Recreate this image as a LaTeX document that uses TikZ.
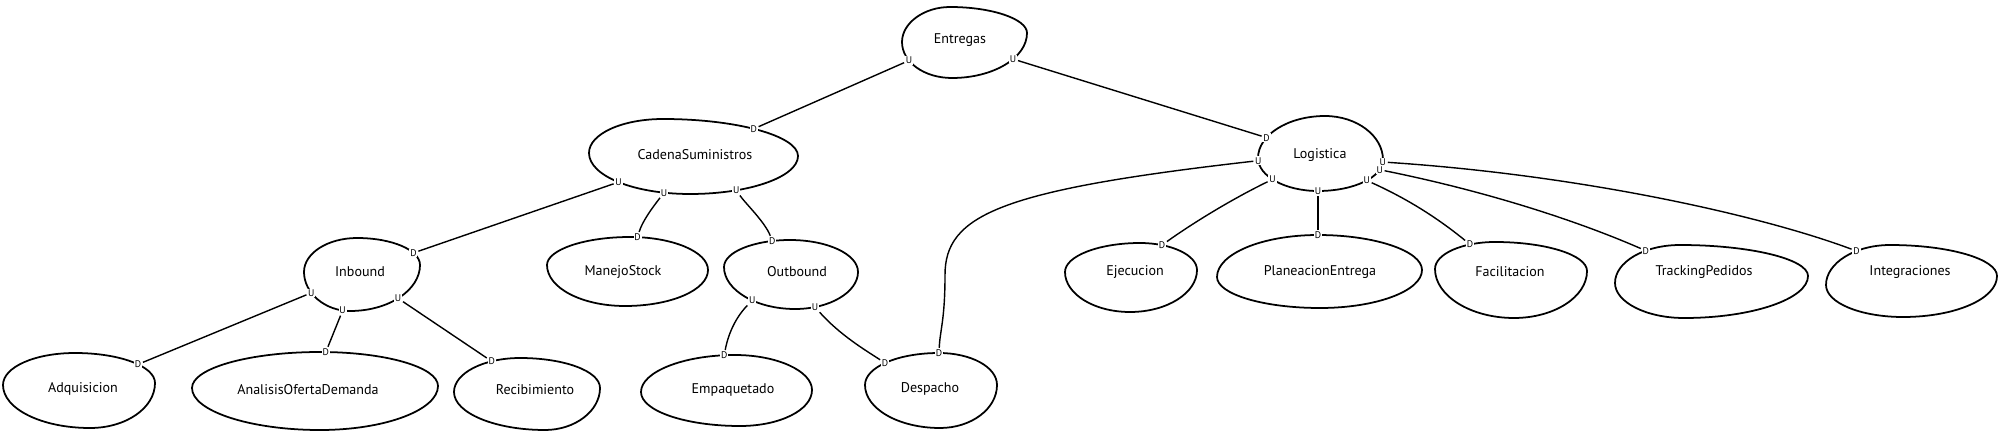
\documentclass[tikz,border=0pt]{standalone}
\usepackage{fontspec}
\setmainfont{PT Sans}

\begin{document}
\begin{tikzpicture}[x=0.02cm,y=-0.02cm,
    blobline/.style={line width=1pt},
    blobtext/.style={font=\fontsize{8}{9.6}\selectfont},
    portlbl/.style={font=\fontsize{5.5}{6}\selectfont,fill=white,inner sep=0.5pt},
    linkline/.style={line width=0.8pt}]
\useasboundingbox (0,0) rectangle (2000,432);

% names
\node[blobtext] (entregas) at (960,40) {Entregas};
\node[blobtext] (cadena) at (695,155) {CadenaSuministros};
\node[blobtext] (logistica) at (1320,155) {Logistica};
\node[blobtext] (inbound) at (360,272) {Inbound};
\node[blobtext] (manejo) at (623,272) {ManejoStock};
\node[blobtext] (outbound) at (797,272) {Outbound};
\node[blobtext] (ejecucion) at (1135,272) {Ejecucion};
\node[blobtext] (planeacion) at (1320,272) {PlaneacionEntrega};
\node[blobtext] (facilitacion) at (1510,272) {Facilitacion};
\node[blobtext] (tracking) at (1704,272) {TrackingPedidos};
\node[blobtext] (integraciones) at (1910,272) {Integraciones};
\node[blobtext] (adquisicion) at (83,389) {Adquisicion};
\node[blobtext] (analisis) at (308,390) {AnalisisOfertaDemanda};
\node[blobtext] (recibimiento) at (535,390) {Recibimiento};
\node[blobtext] (empaquetado) at (733,390) {Empaquetado};
\node[blobtext] (despacho) at (930,389) {Despacho};

% blobs with their ports
\draw[blobline] (902,42) .. controls +(0,-19) and +(-26,0) .. (950,7)
  .. controls +(42,0) and +(0,-14) .. (1027,33)
  .. controls +(0,25) and +(41,0) .. (952,78) node[portlbl,pos=0.39] (eU2) {U}
  .. controls +(-28,0) and +(0,20) .. (902,42) node[portlbl,pos=0.66] (eU1) {U}
  -- cycle;
\draw[blobline] (589,153) .. controls +(0,-19) and +(-41,0) .. (663,119)
  .. controls +(74,0) and +(0,-20) .. (798,156) node[portlbl,pos=0.47] (cD) {D}
  .. controls +(0,21) and +(59,0) .. (690,194) node[portlbl,pos=0.72] (cU3) {U}
  .. controls +(-56,0) and +(0,23) .. (589,153) node[portlbl,pos=0.16] (cU2) {U} node[portlbl,pos=0.5] (cU1) {U}
  -- cycle;
\draw[blobline] (1258,158) .. controls +(0,-23) and +(-37,0) .. (1325,116) node[portlbl,pos=0.32] (lD) {D}
  .. controls +(32,0) and +(0,-24) .. (1383,160)
  .. controls +(0,17) and +(36,0) .. (1318,191) node[portlbl,pos=0.2] (lU5) {U} node[portlbl,pos=0.46] (lU4) {U} node[portlbl,pos=0.04] (lU6) {U} node[portlbl,pos=1] (lU3) {U}
  .. controls +(-33,0) and +(0,18) .. (1258,158) node[portlbl,pos=0.55] (lU2) {U} node[portlbl,pos=0.95] (lU1) {U}
  -- cycle;
\draw[blobline] (304,272) .. controls +(0,-19) and +(-29,0) .. (357,238)
  .. controls +(35,0) and +(0,-15) .. (420,265) node[portlbl,pos=0.71] (iD) {D}
  .. controls +(0,25) and +(39,0) .. (350,311) node[portlbl,pos=0.52] (iU3) {U}
  .. controls +(-25,0) and +(0,21) .. (304,272) node[portlbl,pos=0.1] (iU2) {U} node[portlbl,pos=0.64] (iU1) {U}
  -- cycle;
\draw[blobline] (547,265) .. controls +(0,-15) and +(-46,0) .. (630,237)
  .. controls +(43,0) and +(0,-18) .. (708,270) node[portlbl,pos=0.06] (mD) {D}
  .. controls +(0,20) and +(46,0) .. (625,306)
  .. controls +(-43,0) and +(0,23) .. (547,265) -- cycle;
\draw[blobline] (724,267) .. controls +(0,-15) and +(-36,0) .. (790,240) node[portlbl,pos=0.83] (oD) {D}
  .. controls +(37,0) and +(0,-18) .. (858,272)
  .. controls +(0,20) and +(35,0) .. (795,309) node[portlbl,pos=0.8] (oU2) {U}
  .. controls +(-39,0) and +(0,23) .. (724,267) node[portlbl,pos=0.41] (oU1) {U}
  -- cycle;
\draw[blobline] (3,385) .. controls +(0,-18) and +(-40,0) .. (75,353)
  .. controls +(44,0) and +(0,-17) .. (155,383) node[portlbl,pos=0.58] (aD) {D}
  .. controls +(0,25) and +(36,0) .. (90,428)
  .. controls +(-48,0) and +(0,24) .. (3,385) -- cycle;
\draw[blobline] (192,388) .. controls +(0,-20) and +(-70,0) .. (320,352)
  .. controls +(65,0) and +(0,-19) .. (438,386) node[portlbl,pos=0.03] (anD) {D}
  .. controls +(0,24) and +(65,0) .. (320,430)
  .. controls +(-70,0) and +(0,23) .. (192,388) -- cycle;
\draw[blobline] (454,392) .. controls +(0,-19) and +(-36,0) .. (520,358) node[portlbl,pos=0.72] (rD) {D}
  .. controls +(44,0) and +(0,-17) .. (600,388)
  .. controls +(0,23) and +(30,0) .. (545,430)
  .. controls +(-50,0) and +(0,21) .. (454,392) -- cycle;
\draw[blobline] (641,392) .. controls +(0,-20) and +(-52,0) .. (735,355) node[portlbl,pos=0.93] (emD) {D}
  .. controls +(42,0) and +(0,-19) .. (812,390)
  .. controls +(0,20) and +(40,0) .. (740,426)
  .. controls +(-54,0) and +(0,19) .. (641,392) -- cycle;
\draw[blobline] (865,385) .. controls +(0,-18) and +(-41,0) .. (939,353) node[portlbl,pos=0.48] (dD1) {D} node[portlbl,pos=1] (dD2) {D}
  .. controls +(32,0) and +(0,-18) .. (997,385)
  .. controls +(0,24) and +(31,0) .. (940,428)
  .. controls +(-41,0) and +(0,24) .. (865,385) -- cycle;
\draw[blobline] (1065,272) .. controls +(0,-16) and +(-41,0) .. (1140,243)
  .. controls +(31,0) and +(0,-15) .. (1197,270) node[portlbl,pos=0.25] (ejD) {D}
  .. controls +(0,23) and +(37,0) .. (1130,312)
  .. controls +(-36,0) and +(0,22) .. (1065,272) -- cycle;
\draw[blobline] (1217,277) .. controls +(0,-23) and +(-56,0) .. (1318,235) node[portlbl,pos=1] (pD) {D}
  .. controls +(57,0) and +(0,-19) .. (1422,270)
  .. controls +(0,21) and +(56,0) .. (1320,308)
  .. controls +(-57,0) and +(0,17) .. (1217,277) -- cycle;
\draw[blobline] (1435,269) .. controls +(0,-15) and +(-33,0) .. (1495,242) node[portlbl,pos=0.73] (fD) {D}
  .. controls +(51,0) and +(0,-16) .. (1587,271)
  .. controls +(0,26) and +(40,0) .. (1514,318)
  .. controls +(-43,0) and +(0,27) .. (1435,269) -- cycle;
\draw[blobline] (1615,283) .. controls +(0,-21) and +(-36,0) .. (1680,245) node[portlbl,pos=0.65] (tD) {D}
  .. controls +(70,0) and +(0,-17) .. (1808,276)
  .. controls +(0,23) and +(68,0) .. (1684,318)
  .. controls +(-38,0) and +(0,19) .. (1615,283) -- cycle;
\draw[blobline] (1826,285) .. controls +(0,-22) and +(-35,0) .. (1890,245) node[portlbl,pos=0.65] (inD) {D}
  .. controls +(59,0) and +(0,-17) .. (1997,276)
  .. controls +(0,23) and +(52,0) .. (1903,317)
  .. controls +(-42,0) and +(0,18) .. (1826,285) -- cycle;

% links
\draw[linkline] (eU1) -- (cD);
\draw[linkline] (eU2) -- (lD);
\draw[linkline] (cU1) -- (iD);
\draw[linkline] (cU2) .. controls (652,208) and (642,222) .. (mD);
\draw[linkline] (cU3) .. controls (745,203) and (765,222) .. (oD);
\draw[linkline] (iU1) -- (aD);
\draw[linkline] (iU2) -- (anD);
\draw[linkline] (iU3) -- (rD);
\draw[linkline] (oU1) .. controls (735,318) and (728,335) .. (emD);
\draw[linkline] (oU2) .. controls (840,335) and (865,350) .. (dD1);
\draw[linkline] (lU1) .. controls (1000,190) and (945,215) .. (945,275) .. controls (945,320) and (940,330) .. (dD2);
\draw[linkline] (lU2) .. controls (1230,200) and (1190,225) .. (ejD);
\draw[linkline] (lU3) -- (pD);
\draw[linkline] (lU4) .. controls (1410,200) and (1440,220) .. (fD);
\draw[linkline] (lU5) .. controls (1490,192) and (1580,222) .. (tD);
\draw[linkline] (lU6) .. controls (1580,175) and (1760,215) .. (inD);
\end{tikzpicture}
\end{document}
